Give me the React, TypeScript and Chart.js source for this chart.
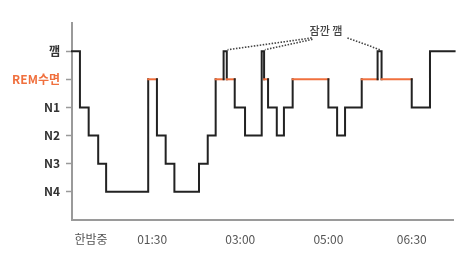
import { useEffect, useRef } from 'react';
import { Chart, registerables } from 'chart.js';
Chart.register(...registerables);

// Sleep stages: 0 = N4 ... 5 = 깸
const stageLevels = [0, 1, 2, 3, 4, 5];
const stageNames = ['N4', 'N3', 'N2', 'N1', 'REM수면', '깸'];
// minutes from start when the stage changes, and the stage entered
const changeTimes = [0, 10, 21, 33, 43, 96, 107, 118, 129, 160, 171, 181, 191, 195, 205, 218, 239, 242, 247, 258, 267, 278, 323, 334, 344, 365, 385, 390, 428, 451];
const changeStages = [5, 3, 2, 1, 0, 4, 2, 1, 0, 1, 2, 4, 5, 4, 3, 2, 5, 4, 3, 2, 3, 4, 3, 2, 3, 4, 5, 4, 3, 5];
const endTime = 482;
const tickTimes = [24, 101, 212, 323, 428];
const tickLabels = ['한밤중', '01:30', '03:00', '05:00', '06:30'];
// annotation "잠깐 깸"
const noteText = '잠깐 깸';
const notePos = { x: 320, y: 5.72 };
const leaderFrom = [{ x: 302, y: 5.47 }, { x: 303, y: 5.42 }, { x: 347, y: 5.47 }];
const leaderTo = [{ x: 196, y: 5.05 }, { x: 243, y: 5.05 }, { x: 388, y: 5.05 }];

const FONT = '"Noto Sans CJK KR", "Noto Sans", sans-serif';
const ORANGE = '#f0703e';
const DARK = '#222222';

export default function App() {
  const ref = useRef<HTMLCanvasElement>(null);
  useEffect(() => {
    const pts: { x: number; y: number }[] = [];
    for (let i = 0; i < changeTimes.length; i++) {
      const next = i + 1 < changeTimes.length ? changeTimes[i + 1] : endTime;
      pts.push({ x: changeTimes[i], y: changeStages[i] });
      pts.push({ x: next, y: changeStages[i] });
    }
    const leaders = leaderFrom.map((f, i) => ({
      data: [f, leaderTo[i]],
      borderColor: '#444',
      borderWidth: 1.6,
      borderDash: [1.5, 1.5],
      pointRadius: 0,
      clip: false as any,
    }));
    const notePlugin = {
      id: 'note',
      afterDatasetsDraw(chart: any) {
        const { ctx, scales } = chart;
        ctx.save();
        ctx.font = `500 11px ${FONT}`;
        ctx.fillStyle = '#444';
        ctx.textAlign = 'center';
        ctx.textBaseline = 'middle';
        ctx.fillText(noteText, scales.x.getPixelForValue(notePos.x), scales.y.getPixelForValue(notePos.y));
        ctx.restore();
      },
    };
    const chart = new Chart(ref.current!, {
      type: 'line',
      data: {
        datasets: [
          {
            data: pts,
            borderColor: DARK,
            borderWidth: 2,
            pointRadius: 0,
            borderCapStyle: 'square',
            borderJoinStyle: 'miter',
            clip: false as any,
            segment: {
              borderColor: (c: any) => (c.p0.parsed.y === 4 && c.p1.parsed.y === 4 ? ORANGE : DARK),
            },
          } as any,
          ...leaders,
        ],
      },
      options: {
        animation: false,
        responsive: false,
        devicePixelRatio: 1,
        parsing: false as any,
        layout: { padding: { top: 23, right: 17, left: 0, bottom: 0 } },
        plugins: { legend: { display: false }, tooltip: { enabled: false } },
        scales: {
          x: {
            type: 'linear',
            min: 0,
            max: 480,
            afterBuildTicks: (s: any) => {
              s.ticks = tickTimes.map((v) => ({ value: v }));
            },
            afterFit: (s: any) => {
              s.height = 36;
            },
            ticks: {
              autoSkip: false,
              maxRotation: 0,
              padding: 12,
              color: '#555',
              font: { family: FONT, size: 12 },
              callback: (v: any) => tickLabels[tickTimes.indexOf(Number(v))] ?? '',
            },
            grid: { display: false, drawTicks: false },
            border: { display: true, color: '#9a9a9a', width: 2 },
          },
          y: {
            type: 'linear',
            min: -1,
            max: 6,
            afterBuildTicks: (s: any) => {
              s.ticks = stageLevels.map((v) => ({ value: v }));
            },
            afterFit: (s: any) => {
              s.width = 72;
            },
            ticks: {
              autoSkip: false,
              padding: 6,
              color: (c: any) => (c.tick && c.tick.value === 4 ? ORANGE : '#333'),
              font: { family: FONT, size: 12, weight: '600' as any },
              callback: (v: any) => stageNames[stageLevels.indexOf(Number(v))] ?? '',
            },
            grid: { drawOnChartArea: false, drawTicks: true, tickLength: 6, tickColor: '#9a9a9a', tickWidth: 1.5 },
            border: { display: true, color: '#9a9a9a', width: 2 },
          },
        },
      },
      plugins: [notePlugin],
    });
    return () => chart.destroy();
  }, []);
  return (
    <div style={{ position: 'fixed', left: 0, top: 0, width: 470, height: 256, background: '#fff' }}>
      <canvas ref={ref} width={470} height={256} />
    </div>
  );
}
